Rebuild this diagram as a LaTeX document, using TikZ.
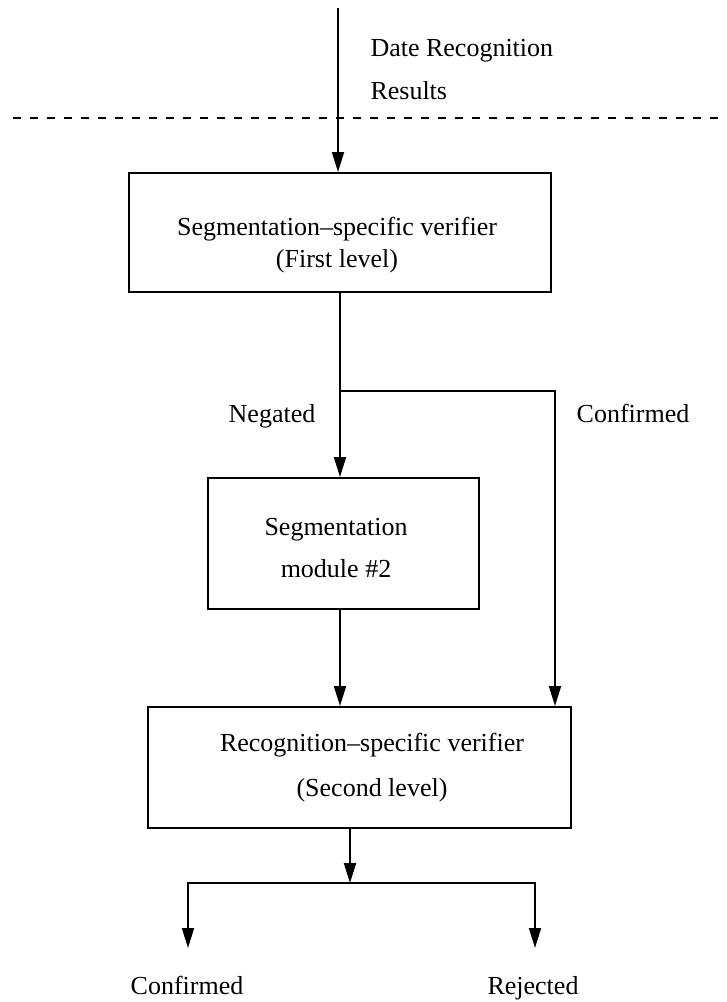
\documentclass[tikz,border=0pt]{standalone}
\usepackage{fontspec}
\setmainfont{Liberation Serif}
\usetikzlibrary{arrows.meta}
\tikzset{
  box/.style={draw, line width=0.8pt, rectangle, inner sep=0pt},
  lbl/.style={inner sep=0pt, align=center},
  conn/.style={line width=0.8pt},
  arr/.style={conn, -{Triangle[length=8pt, width=4.8pt]}},
  sep/.style={line width=0.8pt, dash pattern=on 3.2pt off 3.6pt}
}
\begin{document}
\begin{tikzpicture}[x=0.4pt, y=-0.4pt, font=\fontsize{10.4}{12.5}\selectfont]
\useasboundingbox (0,0) rectangle (727,1002);

% input and separator line
\coordinate (in) at (338,8);
\coordinate (sepL) at (13,118);
\coordinate (sepR) at (727,118);
\draw[sep] (sepL) -- (sepR);
\node[lbl, anchor=west, align=left, font=\fontsize{10.4}{17.2}\selectfont] (inlabel) at (370,70)
  {Date Recognition\\Results};

% processing boxes
\node[box, minimum width=168.8pt, minimum height=47.6pt] (b1) at (340,232.5) {};
\node[lbl] (b1text) at (337,245) {Segmentation--specific verifier\\(First level)};

\node[box, minimum width=108.4pt, minimum height=52.4pt] (b2) at (343.5,543.5) {};
\node[lbl, font=\fontsize{10.4}{16.8}\selectfont] (b2text) at (336,548) {Segmentation\\module \#2};

\node[box, minimum width=169.2pt, minimum height=48.4pt] (b3) at (359.5,767.5) {};
\node[lbl, font=\fontsize{10.4}{18}\selectfont] (b3text) at (372,768) {Recognition--specific verifier\\(Second level)};

% branch labels
\node[lbl, anchor=base] (neg) at (272,422) {Negated};
\node[lbl, anchor=base] (conf1) at (633,422) {Confirmed};
\node[lbl, anchor=base] (conf2) at (187,994) {Confirmed};
\node[lbl, anchor=base] (rej) at (533,994) {Rejected};

% connectors
\draw[arr] (in) -- (in |- b1.north);

\coordinate (split) at (340,391);
\coordinate (splitR) at (555,391);
\draw[conn] (b1.south) -- (split);
\draw[arr] (split) -- (split |- b2.north);
\draw[arr] (split) -- (splitR) -- (splitR |- b3.north);
\draw[arr] (b2.south -| split) -- (b3.north -| split);

\coordinate (fork) at (350,883);
\coordinate (forkL) at (188,883);
\coordinate (forkR) at (535,883);
\coordinate (endL) at (188,948);
\coordinate (endR) at (535,948);
\draw[arr] (b3.south -| fork) -- (fork);
\draw[arr] (fork) -- (forkL) -- (endL);
\draw[arr] (fork) -- (forkR) -- (endR);
\end{tikzpicture}
\end{document}
